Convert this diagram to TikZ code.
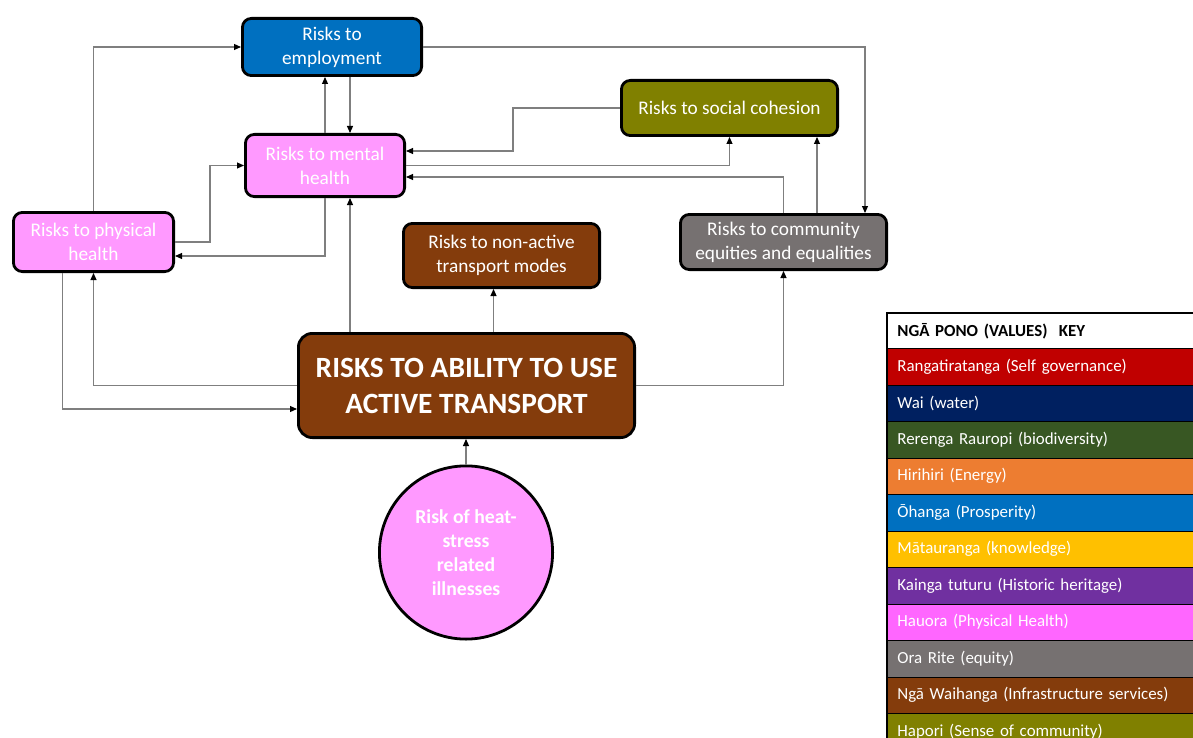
\documentclass[tikz,border=0pt]{standalone}
\usepackage{fontspec}
\setmainfont{Carlito}
\usetikzlibrary{positioning,arrows.meta,calc}
\definecolor{ohanga}{HTML}{0070C0}
\definecolor{pinkbox}{HTML}{FF99FF}
\definecolor{hapori}{HTML}{808000}
\definecolor{waihanga}{HTML}{843C0C}
\definecolor{orarite}{HTML}{767171}
\definecolor{ranga}{HTML}{C00000}
\definecolor{wai}{HTML}{002060}
\definecolor{rerenga}{HTML}{385723}
\definecolor{hirihiri}{HTML}{ED7D31}
\definecolor{matauranga}{HTML}{FFC000}
\definecolor{kainga}{HTML}{7030A0}
\definecolor{hauora}{HTML}{FF66FF}
\definecolor{linkgrey}{HTML}{7F7F7F}

\begin{document}
\begin{tikzpicture}[x=1pt,y=-1pt,
  risk/.style={draw=black,line width=2.8pt,rounded corners=9pt,text=white,
    align=center,inner sep=0pt,font=\fontsize{19.3}{24}\selectfont},
  link/.style={draw=linkgrey,line width=1.1pt,
    -{Triangle[length=7pt,width=6pt,color=black]}},
  keyrow/.style={draw=black,line width=0.8pt,anchor=north west,minimum width=340,
    minimum height=36.5,text width=320,inner xsep=10,align=left,text=white,
    font=\fontsize{16.9}{20}\selectfont}]
  \useasboundingbox (0,0) rectangle (1193,738);

  % risk boxes
  \node[risk,fill=ohanga,minimum width=179.2,minimum height=57.2] (employment) at (332,47) {Risks to\\employment};
  \node[risk,fill=pinkbox,minimum width=159.2,minimum height=62.2] (mental) at (325,165.5) {Risks to mental\\health};
  \node[risk,fill=pinkbox,minimum width=160.2,minimum height=59.2] (physical) at (93.5,242) {Risks to physical\\health};
  \node[risk,fill=hapori,minimum width=216.2,minimum height=55.2] (social) at (729.5,108) {Risks to social cohesion};
  \node[risk,fill=waihanga,minimum width=196.2,minimum height=64.2] (nonactive) at (501.5,255.5) {Risks to non-active\\transport modes};
  \node[risk,fill=orarite,minimum width=206.2,minimum height=55.2] (community) at (783.5,242) {Risks to community\\equities and equalities};
  \node[risk,fill=waihanga,minimum width=336.2,minimum height=104.2,rounded corners=14pt,
    font=\fontsize{29.4}{36}\selectfont\bfseries] (main) at (466.5,385.5) {RISKS TO ABILITY TO USE\\ACTIVE TRANSPORT};
  \node[risk,circle,fill=pinkbox,minimum size=173.2,
    font=\fontsize{19.7}{24}\selectfont\bfseries] (heat) at (466,552.5) {Risk of heat-\\stress\\related\\illnesses};

  % connectors
  \draw[link] (physical.north) |- (employment.west);
  \draw[link] (mental.north) -- (mental.north |- employment.south);
  \draw[link] ([xshift=25]mental.north |- employment.south) -- ([xshift=25]mental.north);
  \draw[link] (physical.east) -- ++(35,0) |- (mental.west);
  \draw[link] (mental.south) |- ([yshift=-14]physical.east);
  \draw[link] ([xshift=25]mental.south |- main.north) -- ([xshift=25]mental.south);
  \draw[link] (main.west) -| (physical.south);
  \draw[link] ([xshift=-31]physical.south) |- ([yshift=-23.5]main.west);
  \draw[link] ([xshift=-8]nonactive.south |- main.north) -- ([xshift=-8]nonactive.south);
  \draw[link] (main.east) -| (community.south);
  \draw[link] (heat.north) -- (heat.north |- main.south);
  \draw[link] (employment.east) -| ([xshift=81.5]community.north);
  \draw[link] (social.west) -- ++(-107,0) |- ([yshift=14.5]mental.east);
  \draw[link] (mental.east) -| (social.south);
  \draw[link] (community.north) |- ([yshift=-11.5]mental.east);
  \draw[link] ([xshift=33.5]community.north) -- ([xshift=33.5]community.north |- social.south);

  % values key
  \node[keyrow,fill=white,text=black,minimum height=35,font=\fontsize{16.9}{20}\selectfont\bfseries] (khead) at (887,313) {NGĀ PONO (VALUES)\ \ KEY};
  \node[keyrow,fill=ranga] (k1) at (887,348) {Rangatiratanga (Self governance)};
  \node[keyrow,fill=wai] (k2) at (887,384.5) {Wai (water)};
  \node[keyrow,fill=rerenga] (k3) at (887,421) {Rerenga Rauropi (biodiversity)};
  \node[keyrow,fill=hirihiri] (k4) at (887,457.5) {Hirihiri (Energy)};
  \node[keyrow,fill=ohanga] (k5) at (887,494) {Ōhanga (Prosperity)};
  \node[keyrow,fill=matauranga] (k6) at (887,530.5) {Mātauranga (knowledge)};
  \node[keyrow,fill=kainga] (k7) at (887,567) {Kainga tuturu (Historic heritage)};
  \node[keyrow,fill=hauora] (k8) at (887,603.5) {Hauora (Physical Health)};
  \node[keyrow,fill=orarite] (k9) at (887,640) {Ora Rite (equity)};
  \node[keyrow,fill=waihanga] (k10) at (887,676.5) {Ngā Waihanga (Infrastructure services)};
  \node[keyrow,fill=hapori] (k11) at (887,713) {Hapori (Sense of community)};
  \draw[line width=2.6pt] (khead.north west) rectangle (k11.south east);
\end{tikzpicture}
\end{document}
